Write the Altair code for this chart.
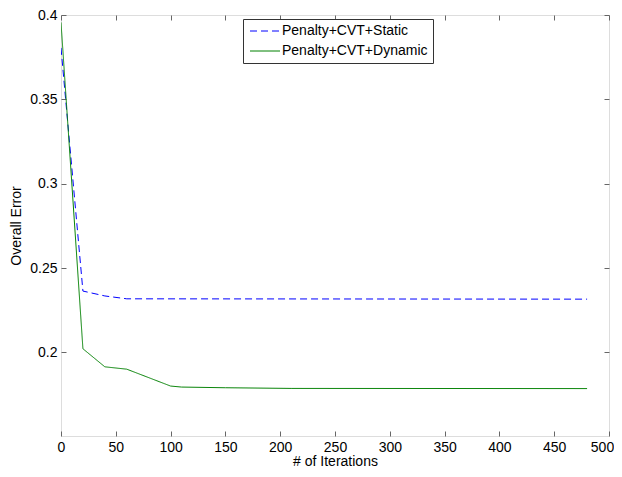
import altair as alt
import pandas as pd

series_names = ["Penalty+CVT+Static", "Penalty+CVT+Dynamic"]
iters_static = [0, 20, 40, 60, 480]
err_static = [0.3805, 0.2364, 0.2335, 0.2318, 0.2316]
iters_dynamic = [0, 20, 40, 60, 100, 110, 150, 210, 480]
err_dynamic = [0.3956, 0.2022, 0.1915, 0.1901, 0.1801, 0.1795, 0.1791, 0.1787, 0.1786]
x_ticks = [0, 50, 100, 150, 200, 250, 300, 350, 400, 450, 500]
y_ticks = [0.2, 0.25, 0.3, 0.35, 0.4]

rows = []
for i, e in zip(iters_static, err_static):
    rows.append({"iter": i, "err": e, "series": series_names[0]})
for i, e in zip(iters_dynamic, err_dynamic):
    rows.append({"iter": i, "err": e, "series": series_names[1]})
df = pd.DataFrame(rows)

FONT = "Liberation Sans"
xscale = alt.Scale(domain=[0, 500], nice=False, zero=False)
yscale = alt.Scale(domain=[0.1505, 0.4], nice=False, zero=False)

common_axis = dict(
    grid=False, domain=False, tickSize=5, offset=-5, tickColor="#666",
    labelFont=FONT, labelFontSize=14, labelColor="#000",
    titleFont=FONT, titleFontSize=14, titleFontWeight="normal", titleColor="#000",
)

x_bottom = alt.Axis(values=x_ticks, orient="bottom", labelPadding=4, title="# of Iterations",
                    titlePadding=0, labelFlush=False,
                    labelOffset={"condition": {"test": "datum.value == 500", "value": -7}, "value": 0},
                    **common_axis)
y_left = alt.Axis(values=y_ticks, orient="left", labelPadding=4, format="~g", title="Overall Error",
                  titlePadding=6, labelFlush=False, **common_axis)
x_top = alt.Axis(values=x_ticks, orient="top", labels=False, title=None, **common_axis)
y_right = alt.Axis(values=y_ticks, orient="right", labels=False, title=None, **common_axis)

legend_opts = dict(title=None, orient="none", legendX=182, legendY=4,
                   symbolType="M-1,0H5", symbolSize=100, symbolStrokeWidth=1,
                   labelFont=FONT, labelFontSize=14, labelColor="#000",
                   labelOffset=20, rowPadding=6, padding=5,
                   strokeColor="#333", fillColor="#ffffff", cornerRadius=0)

lines = alt.Chart(df).mark_line(strokeWidth=1, clip=True).encode(
    x=alt.X("iter:Q", scale=xscale, axis=x_bottom),
    y=alt.Y("err:Q", scale=yscale, axis=y_left),
    color=alt.Color("series:N", scale=alt.Scale(domain=series_names, range=["#0000ff", "#008000"]),
                    legend=alt.Legend(**legend_opts)),
    strokeDash=alt.StrokeDash("series:N", scale=alt.Scale(domain=series_names, range=[[7, 4], [1, 0]]),
                              legend=alt.Legend(**legend_opts)),
)

mirror = alt.Chart(df).mark_line(opacity=0).encode(
    x=alt.X("iter:Q", scale=xscale, axis=x_top),
    y=alt.Y("err:Q", scale=yscale, axis=y_right),
    detail="series:N",
)

chart = alt.layer(lines, mirror).resolve_axis(x="independent", y="independent").properties(
    width=548, height=421,
    autosize=alt.AutoSizeParams(type="none"),
    padding={"left": 53, "top": 7, "right": 5, "bottom": 33},
).configure_view(stroke="#333", strokeWidth=1).configure(background="#ffffff")

chart.save("out.html", embed_options={"renderer": "svg", "actions": False})
